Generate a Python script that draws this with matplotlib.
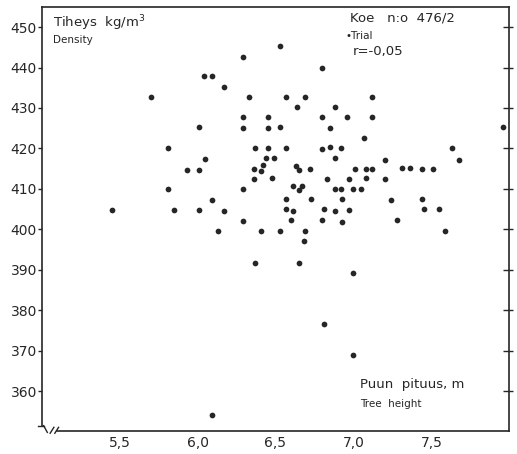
import matplotlib
matplotlib.use("Agg")
import matplotlib.pyplot as plt
import numpy as np

# Tree height (m) and wood density (kg/m3)
height = [6.29, 6.04, 6.09, 6.17, 5.70, 6.33, 6.29, 6.01, 6.29, 5.81,
          6.37, 6.05, 5.93, 6.01, 6.36, 6.36, 5.81, 6.29, 6.09, 5.45,
          5.85, 6.01, 6.17, 6.29,
          6.53, 6.80, 6.57, 6.69, 7.12, 6.64, 6.88, 6.45, 6.80, 6.96,
          7.12, 6.45, 6.53, 6.85, 7.07, 7.96, 6.45, 6.57, 6.80, 6.85,
          6.92, 7.63, 6.44, 6.49, 6.88, 7.20, 7.68, 6.42, 6.41, 6.63,
          6.65, 6.72, 7.01, 7.08, 7.12, 7.31, 7.36, 7.44, 7.51, 6.48,
          6.83, 6.97, 7.08, 7.20, 6.61, 6.65, 6.67, 6.88, 6.92, 7.00,
          7.05, 6.57, 6.73, 6.93, 7.24, 7.44, 6.57, 6.61, 6.81, 6.88,
          6.97, 7.45, 7.55, 6.60, 6.80, 6.93, 7.28,
          6.41, 6.53, 6.69, 6.68, 7.59, 6.37, 6.65, 7.00, 6.81, 7.00,
          6.13, 6.09]
density = [442.7, 437.9, 437.9, 435.1, 432.7, 432.7, 427.8, 425.2, 425.1, 420.1,
           420.0, 417.4, 414.7, 414.7, 414.9, 412.4, 409.9, 410.0, 407.3, 404.7,
           404.7, 404.7, 404.5, 402.1,
           445.3, 440.0, 432.7, 432.7, 432.8, 430.2, 430.2, 427.8, 427.8, 427.8,
           427.7, 425.0, 425.2, 425.0, 422.5, 425.2, 420.0, 420.0, 419.9, 420.3,
           420.0, 420.0, 417.6, 417.6, 417.6, 417.2, 417.2, 416.0, 414.5, 415.7,
           414.6, 414.9, 414.9, 414.9, 414.9, 415.1, 415.1, 414.9, 414.9, 412.6,
           412.4, 412.4, 412.6, 412.4, 410.6, 409.7, 410.7, 409.9, 409.9, 410.0,
           410.0, 407.5, 407.4, 407.4, 407.3, 407.4, 405.0, 404.6, 404.9, 404.6,
           404.8, 404.9, 404.9, 402.2, 402.3, 401.8, 402.2,
           399.6, 399.6, 399.5, 397.0, 399.7, 391.6, 391.7, 389.1, 376.5, 368.8,
           399.5, 354.2]

y_ticks = [360, 370, 380, 390, 400, 410, 420, 430, 440, 450]
x_ticks = [5.5, 6.0, 6.5, 7.0, 7.5]
x_labels = ["5,5", "6,0", "6,5", "7,0", "7,5"]

plt.rcParams['font.family'] = ['DejaVu Sans']
ink = "#262626"

fig = plt.figure(figsize=(5.17, 4.54), dpi=100)
ax = fig.add_axes([0.0807, 0.0513, 0.9043, 0.9327])
ax.scatter(height, density, s=17, color=ink, linewidths=0, zorder=3)

ax.set_xlim(5.0, 8.0)
ax.set_ylim(350.2, 454.9)

ax.set_yticks(y_ticks)
ax.set_yticklabels([str(v) for v in y_ticks], fontsize=10, color=ink)
ax.set_xticks(x_ticks)
ax.set_xticklabels(x_labels, fontsize=10, color=ink)
ax.tick_params(axis='y', which='both', direction='out', length=3, width=1,
               color=ink, pad=0.5, right=True)
ax.tick_params(axis='x', length=0, pad=4)

# right side inward ticks
sec = ax.secondary_yaxis('right')
sec.set_yticks(y_ticks)
sec.tick_params(direction='in', length=4, width=1, color=ink, labelright=False)
sec.spines['right'].set_visible(False)

for sp in ax.spines.values():
    sp.set_color(ink)
    sp.set_linewidth(1.2)
ax.spines['left'].set_bounds(351.3, 454.9)
ax.spines['bottom'].set_bounds(5.10, 8.0)

# axis-break marks
tr = ax.transAxes
ax.plot([-0.008, 0.004], [0.012, 0.012], color=ink, lw=1, transform=tr, clip_on=False)
ax.plot([0.004, 0.012], [0.012, -0.004], color=ink, lw=1, transform=tr, clip_on=False)
ax.plot([0.018, 0.026], [-0.006, 0.008], color=ink, lw=1, transform=tr, clip_on=False)
ax.plot([0.028, 0.036], [-0.006, 0.008], color=ink, lw=1, transform=tr, clip_on=False)

# annotations
ax.text(0.025, 0.985, "Tiheys  kg/m$^3$", transform=tr, fontsize=9.5,
        color=ink, va='top', ha='left')
ax.text(0.025, 0.935, "Density", transform=tr, fontsize=7.5,
        color=ink, va='top', ha='left')
ax.text(0.66, 0.99, "Koe   n:o  476/2", transform=tr, fontsize=9.5,
        color=ink, va='top', ha='left')
ax.text(0.649, 0.945, "•Trial", transform=tr, fontsize=7.5,
        color=ink, va='top', ha='left')
ax.text(0.665, 0.91, "r=-0,05", transform=tr, fontsize=9.5,
        color=ink, va='top', ha='left')
ax.text(0.68, 0.125, "Puun  pituus, m", transform=tr, fontsize=9.5,
        color=ink, va='top', ha='left')
ax.text(0.68, 0.075, "Tree  height", transform=tr, fontsize=7.5,
        color=ink, va='top', ha='left')

fig.savefig("out.png", dpi=100)
